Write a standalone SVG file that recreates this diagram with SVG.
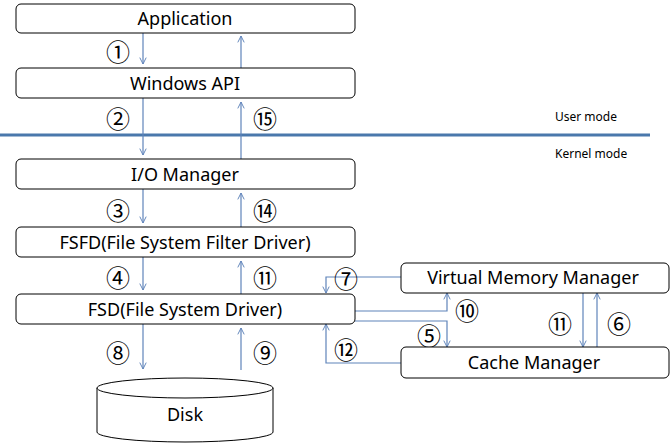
<svg xmlns="http://www.w3.org/2000/svg" width="670" height="443" viewBox="0 0 670 443">
<style>
.box{fill:#fff;stroke:#000;stroke-width:1}
.lbl{font-family:"Noto Sans","Liberation Sans",sans-serif;font-size:18px;fill:#000;text-anchor:middle;dominant-baseline:central}
.num{font-family:"Noto Sans CJK KR","DejaVu Sans",sans-serif;font-size:24px;fill:#000;text-anchor:middle;dominant-baseline:central}
.mode{font-family:"Noto Sans","Liberation Sans",sans-serif;font-size:12px;fill:#000}
.con{fill:none;stroke:#5f84ba;stroke-width:1.2}
</style>
<defs>
<marker id="ah" viewBox="0 0 10 10" refX="9" refY="5" markerWidth="8" markerHeight="8" orient="auto" markerUnits="userSpaceOnUse">
<path d="M1,1 L9,5 L1,9" fill="none" stroke="#5f84ba" stroke-width="1.2"/>
</marker>
</defs>
<rect width="670" height="443" fill="#fff"/>
<line x1="0" y1="135" x2="650" y2="135" stroke="#4a78ac" stroke-width="3"/>
<text class="mode" x="555" y="121">User mode</text>
<text class="mode" x="555" y="158">Kernel mode</text>
<g id="connectors">
<path class="con" marker-end="url(#ah)" d="M143,33 V64"/>
<path class="con" marker-end="url(#ah)" d="M241,68 V36"/>
<path class="con" marker-end="url(#ah)" d="M143,98 V155"/>
<path class="con" marker-end="url(#ah)" d="M241,159 V102"/>
<path class="con" marker-end="url(#ah)" d="M143,189 V223"/>
<path class="con" marker-end="url(#ah)" d="M241,227 V193"/>
<path class="con" marker-end="url(#ah)" d="M143,257 V290"/>
<path class="con" marker-end="url(#ah)" d="M241,294 V261"/>
<path class="con" marker-end="url(#ah)" d="M143,324 V369"/>
<path class="con" marker-end="url(#ah)" d="M241,370 V328"/>
<path class="con" marker-end="url(#ah)" d="M401,277 H326 V293"/>
<path class="con" marker-end="url(#ah)" d="M355,311 H447 V293"/>
<path class="con" marker-end="url(#ah)" d="M355,321 H447 V347"/>
<path class="con" marker-end="url(#ah)" d="M401,363 H326 V324"/>
<path class="con" marker-end="url(#ah)" d="M583,293 V347"/>
<path class="con" marker-end="url(#ah)" d="M597,347 V293"/>
<text class="num" x="118" y="50">①</text>
<text class="num" x="118" y="117">②</text>
<text class="num" x="265" y="117">⑮</text>
<text class="num" x="118" y="209">③</text>
<text class="num" x="265" y="209">⑭</text>
<text class="num" x="118" y="276">④</text>
<text class="num" x="265" y="276">⑪</text>
<text class="num" x="118" y="351">⑧</text>
<text class="num" x="265" y="351">⑨</text>
<text class="num" x="346" y="277">⑦</text>
<text class="num" x="467" y="309">⑩</text>
<text class="num" x="429" y="334">⑤</text>
<text class="num" x="346" y="348">⑫</text>
<text class="num" x="560" y="322">⑪</text>
<text class="num" x="619" y="322">⑥</text>
</g>
<g id="app"><rect class="box" x="16" y="4" width="339" height="29" rx="5"/><text class="lbl" x="185" y="18">Application</text></g>
<g id="winapi"><rect class="box" x="16" y="68" width="339" height="30" rx="5"/><text class="lbl" x="185" y="83">Windows API</text></g>
<g id="iomgr"><rect class="box" x="16" y="159" width="339" height="30" rx="5"/><text class="lbl" x="185" y="174">I/O Manager</text></g>
<g id="fsfd"><rect class="box" x="16" y="227" width="339" height="30" rx="5"/><text class="lbl" x="185" y="242">FSFD(File System Filter Driver)</text></g>
<g id="fsd"><rect class="box" x="16" y="294" width="339" height="30" rx="5"/><text class="lbl" x="185" y="309">FSD(File System Driver)</text></g>
<g id="vmm"><rect class="box" x="401" y="263" width="268" height="30" rx="5"/><text class="lbl" x="533" y="277">Virtual Memory Manager</text></g>
<g id="cache"><rect class="box" x="401" y="347" width="268" height="31" rx="5"/><text class="lbl" x="534" y="362">Cache Manager</text></g>
<g id="disk">
<path class="box" d="M97,388 V432 A88,10 0 0 0 273,432 V388"/>
<ellipse class="box" cx="185" cy="388" rx="88" ry="10"/>
<text class="lbl" x="185" y="414">Disk</text>
</g>
</svg>
